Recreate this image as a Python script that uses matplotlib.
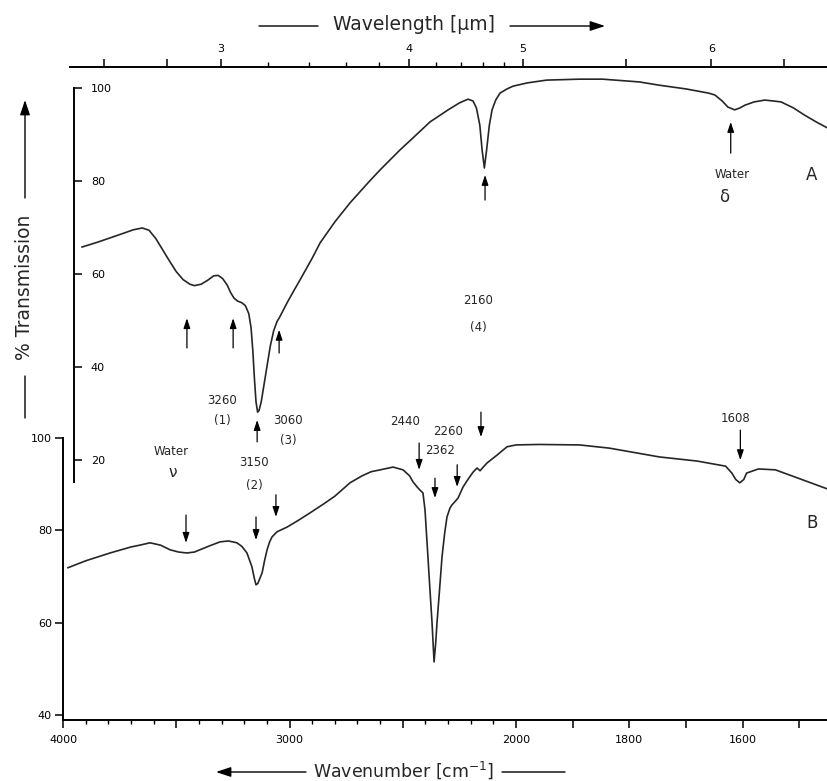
import numpy as np
import matplotlib
matplotlib.use("Agg")
import matplotlib.pyplot as plt

# spectrum A (top): wavenumber [cm-1] and % transmission
wn_a = [3916, 3850, 3760, 3690, 3650, 3620, 3590, 3560, 3530, 3500, 3470, 3440,
        3420, 3390, 3360, 3335, 3315, 3295, 3275, 3260, 3245, 3230, 3210, 3195,
        3180, 3170, 3162, 3155, 3148, 3141, 3135, 3125, 3115, 3100, 3085, 3070,
        3055, 3045, 3030, 3011, 2980, 2954, 2900, 2865, 2800, 2733, 2650, 2600,
        2512, 2450, 2380, 2300, 2250, 2212, 2190, 2175, 2160, 2150, 2140, 2130,
        2118, 2106, 2090, 2071, 2040, 2013, 1980, 1946, 1888, 1847, 1782, 1747,
        1700, 1660, 1649, 1636, 1626, 1614, 1605, 1596, 1580, 1561, 1545, 1532,
        1510, 1491, 1470, 1444]
tr_a = [65.8, 66.8, 68.3, 69.5, 69.9, 69.4, 67.6, 65.2, 62.8, 60.5, 58.8, 57.8,
        57.5, 57.8, 58.7, 59.6, 59.7, 59.0, 57.6, 56.0, 54.8, 54.2, 53.8, 53.2,
        51.5, 48.5, 43.5, 37.5, 32.5, 30.3, 30.6, 32.5, 35.5, 40.0, 44.5, 47.8,
        49.8, 50.6, 52.0, 53.8, 56.5, 58.7, 63.4, 66.7, 71.2, 75.3, 79.8, 82.4,
        86.7, 89.5, 92.7, 95.3, 96.8, 97.6, 97.2, 95.7, 92.0, 86.7, 82.8, 86.7,
        92.0, 95.3, 97.4, 98.9, 99.8, 100.4, 101.1, 101.7, 101.9, 101.9, 101.3, 100.6,
        99.8, 98.9, 98.5, 97.2, 95.9, 95.3, 95.7, 96.3, 97.0, 97.4, 97.2, 97.0,
        95.7, 94.2, 92.7, 91.0]

# spectrum B (bottom)
wn_b = [3978, 3900, 3792, 3700, 3660, 3616, 3570, 3528, 3490, 3453, 3420, 3395,
        3350, 3307, 3270, 3232, 3210, 3188, 3166, 3155, 3148, 3140, 3121, 3110,
        3099, 3088, 3077, 3055, 3011, 2960, 2909, 2850, 2800, 2733, 2680, 2640,
        2600, 2543, 2499, 2470, 2455, 2435, 2424, 2411, 2402, 2389, 2380, 2371,
        2362, 2355, 2349, 2338, 2327, 2315, 2305, 2292, 2283, 2270, 2256, 2234,
        2210, 2190, 2172, 2159, 2145, 2128, 2084, 2040, 2000, 1960, 1888, 1835,
        1747, 1680, 1630, 1619, 1612, 1605, 1598, 1593, 1572, 1542, 1502, 1451]
tr_b = [71.9, 73.4, 75.1, 76.4, 76.8, 77.3, 76.8, 75.8, 75.3, 75.1, 75.3, 75.8,
        76.7, 77.5, 77.7, 77.3, 76.5, 75.1, 72.1, 69.5, 68.2, 68.5, 70.8, 73.5,
        75.8, 77.5, 78.6, 79.7, 80.7, 82.2, 83.8, 85.7, 87.4, 90.3, 91.8, 92.7,
        93.1, 93.7, 93.1, 91.8, 90.5, 89.3, 88.7, 88.1, 84.4, 74.2, 67.0, 60.0,
        51.5, 55.5, 60.0, 67.0, 74.2, 79.5, 82.9, 84.8, 85.5, 86.2, 87.0, 89.4,
        91.2, 92.6, 93.5, 92.9, 93.7, 94.6, 96.3, 98.1, 98.5, 98.6, 98.5, 97.8,
        95.9, 95.0, 93.9, 92.4, 91.0, 90.3, 91.0, 92.4, 93.3, 93.1, 91.3, 89.0]

# axis ticks
wn_major = [4000, 3500, 3000, 2500, 2000, 1900, 1800, 1700, 1600, 1500]
wn_labels = ['4000', '', '3000', '', '2000', '', '1800', '', '1600', '']
wn_minor = [w for w in range(3900, 2000, -100) if w % 500]
um_long = [2.6, 2.8, 3, 4, 5, 5.5, 6, 6.5]
um_long_labels = ['', '', '3', '4', '5', '', '6', '']
um_short = [3.2, 3.4, 3.6, 3.8, 4.2, 4.4, 4.6, 4.8]
ticks_a = [20, 40, 60, 80, 100]
ticks_b = [40, 60, 80, 100]

# band marks: (wavenumber, tail %T, head %T)
arrows_a = [(3453, 44.1, 50.5), (3249, 44.1, 50.5), (3046, 43.0, 48.0),
            (3143, 23.9, 28.6), (2137, 75.9, 81.3), (1621, 86.0, 92.7)]
arrows_b = [(3457, 83.3, 77.3), (3148, 82.9, 77.9), (3060, 87.7, 82.9),
            (2428, 98.9, 93.1), (2358, 91.3, 87.0), (2260, 94.2, 89.4),
            (2155, 105.6, 100.2), (1604, 101.7, 95.2)]
labels_a = [(3298, 32.7, '3260'), (3298, 28.4, '(1)'), (2168, 54.2, '2160'),
            (2168, 48.6, '(4)'), (1618, 81.3, 'Water')]
labels_b = [(3157, 94.8, '3150'), (3157, 89.8, '(2)'), (3007, 103.7, '3060'),
            (3007, 99.4, '(3)'), (3523, 97.0, 'Water'),
            (2490, 103.5, '2440'), (2300, 101.5, '2260'), (2336, 97.2, '2362'),
            (1612, 104.3, '1608')]

W, H = 827, 781
INK = '#262626'


def box(x0, y0, x1, y1):
    # pixel box (top-left origin) -> figure fraction
    return [x0 / W, 1 - y1 / H, (x1 - x0) / W, (y1 - y0) / H]


# chart paper: 4000-2000 compressed, below 2000 stretched 2.5x (increasing in w)
def fwd(w):
    w = np.asarray(w, dtype=float)
    return np.where(w >= 2000, w - 4000, -2000 - (2000 - w) * 2.5)


def inv(t):
    t = np.asarray(t, dtype=float)
    return np.where(t >= -2000, t + 4000, 2000 + (t + 2000) / 2.5)


XLIM = (4000, 1451)
LW_AX = 1.4
LW_CURVE = 1.2

fig = plt.figure(figsize=(8.27, 7.81), dpi=100)

# ---- B ----
axB = fig.add_axes(box(63, 438, 827, 720))
axB.set_xscale('function', functions=(fwd, inv))
axB.set_xlim(*XLIM)
axB.set_ylim(100 - 282 / 4.617, 100)
axB.patch.set_alpha(0)
for s in ['top', 'right']:
    axB.spines[s].set_visible(False)
for s in ['left', 'bottom']:
    axB.spines[s].set_linewidth(LW_AX)
axB.set_xticks(wn_major)
axB.set_xticklabels(wn_labels)
axB.set_xticks(wn_minor, minor=True)
axB.set_yticks(ticks_b)
axB.tick_params(axis='x', which='major', direction='out', length=6, width=1.1,
                labelsize=8, pad=5)
axB.tick_params(axis='x', which='minor', direction='out', length=3, width=1.0)
axB.tick_params(axis='y', direction='out', length=6, width=1.1, labelsize=8, pad=2)
axB.plot(wn_b, tr_b, color=INK, lw=LW_CURVE, clip_on=False)

# ---- A ----
axA = fig.add_axes(box(63, 66, 827, 482))
axA.set_xscale('function', functions=(fwd, inv))
axA.set_xlim(*XLIM)
axA.set_ylim(100 - 394 / 4.65, 100 + 22 / 4.65)
axA.patch.set_alpha(0)
for s in ['top', 'right', 'bottom']:
    axA.spines[s].set_visible(False)
axA.spines['left'].set_position(('data', 3951))
axA.spines['left'].set_bounds(100 - 394 / 4.65, 100)
axA.spines['left'].set_linewidth(LW_AX)
axA.set_xticks([])
axA.set_yticks(ticks_a)
axA.tick_params(axis='y', direction='in', length=6, width=1.1, labelsize=8, pad=-12)
for lbl in axA.get_yticklabels():
    lbl.set_horizontalalignment('left')
axA.plot(wn_a, tr_a, color=INK, lw=LW_CURVE, clip_on=False)

# ---- wavelength ruler (scan sits a few px right of the wavenumber scale) ----
axW = fig.add_axes(box(69.5, 67, 833.5, 68))
axW.set_xscale('function', functions=(fwd, inv))
axW.set_xlim(*XLIM)
axW.set_yticks([])
axW.patch.set_alpha(0)
for s in ['left', 'right', 'bottom']:
    axW.spines[s].set_visible(False)
axW.spines['top'].set_linewidth(LW_AX)
axW.xaxis.set_ticks_position('top')
axW.set_xticks([1e4 / u for u in um_long])
axW.set_xticklabels(um_long_labels)
axW.set_xticks([1e4 / u for u in um_short], minor=True)
axW.tick_params(axis='x', which='major', direction='out', length=6, width=1.1,
                labelsize=8, pad=3)
axW.tick_params(axis='x', which='minor', direction='out', length=3.5, width=1.0)

# ---- band arrows and labels ----
arw = dict(arrowstyle='-|>,head_length=0.6,head_width=0.2', color='k', lw=0.9,
           shrinkA=0, shrinkB=0)
for w, t0, t1 in arrows_a:
    axA.annotate('', xy=(w, t1), xytext=(w, t0), arrowprops=arw,
                 annotation_clip=False)
for w, t0, t1 in arrows_b:
    axB.annotate('', xy=(w, t1), xytext=(w, t0), arrowprops=arw,
                 annotation_clip=False)
for w, t, s in labels_a:
    axA.text(w, t, s, ha='center', va='center', fontsize=8.5, color=INK)
for w, t, s in labels_b:
    axB.text(w, t, s, ha='center', va='center', fontsize=8.5, color=INK)
axA.text(1632, 76.6, 'δ', ha='center', va='center', fontsize=12, color=INK)
axB.text(3514, 92.6, 'ν', ha='center', va='center', fontsize=11, color=INK)
axA.text(1488, 81.3, 'A', ha='left', va='center', fontsize=12, color=INK)
axB.text(1488, 81.6, 'B', ha='left', va='center', fontsize=12, color=INK)

# ---- axis titles with the arrows of the original ----
fig.text(414 / W, 1 - 25 / H, 'Wavelength [µm]', ha='center', va='center',
         fontsize=13.5, color=INK)
fig.text(404 / W, 1 - 770 / H, 'Wavenumber [cm$^{-1}$]', ha='center', va='center',
         fontsize=12.5, color=INK)
fig.text(25 / W, 1 - 287 / H, '% Transmission', ha='center', va='center',
         rotation=90, fontsize=13.5, color=INK)


def fig_arrow(x0, y0, x1, y1, head=True):
    style = '-|>,head_length=0.9,head_width=0.3' if head else '-'
    axB.annotate('', xy=(x1, H - y1), xytext=(x0, H - y0),
                 xycoords='figure pixels', textcoords='figure pixels',
                 arrowprops=dict(arrowstyle=style, color='k', lw=1.0,
                                 shrinkA=0, shrinkB=0))


fig_arrow(259, 26, 318, 26, head=False)
fig_arrow(510, 26, 605, 26)
fig_arrow(306, 772, 216, 772)
fig_arrow(502, 772, 565, 772, head=False)
fig_arrow(25, 198, 25, 100)
fig_arrow(25, 376, 25, 418, head=False)

fig.savefig('out.png', dpi=100)
